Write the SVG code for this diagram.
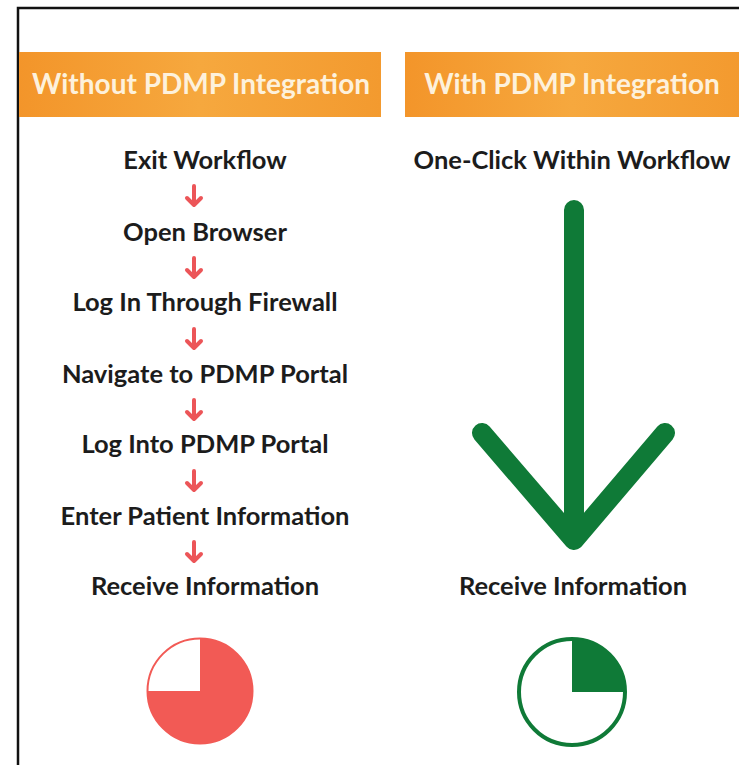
<svg xmlns="http://www.w3.org/2000/svg" width="739" height="765" viewBox="0 0 739 765">
<defs>
<linearGradient id="orange" x1="0" y1="0" x2="1" y2="0">
<stop offset="0" stop-color="#f3952a"/>
<stop offset="0.5" stop-color="#f6a83e"/>
<stop offset="1" stop-color="#f39a2f"/>
</linearGradient>
</defs>
<style>
.step{font-family:Lato,"Liberation Sans",sans-serif;font-weight:bold;font-size:25.5px;fill:#1c1c1c;text-anchor:middle}
.head{font-family:Lato,"Liberation Sans",sans-serif;font-weight:bold;font-size:28px;fill:#fdf1dc;text-anchor:middle}
.rarrow{fill:none;stroke:#ec5558;stroke-width:4;stroke-linecap:round;stroke-linejoin:round}
.green{fill:none;stroke:#0f7a37;stroke-width:20;stroke-linecap:round;stroke-linejoin:round}
</style>
<rect width="739" height="765" fill="#ffffff"/>
<path d="M18,765 V8 H739" fill="none" stroke="#111111" stroke-width="2.5"/>

<g id="header-without">
<rect x="19" y="52" width="362" height="65" fill="url(#orange)"/>
<text class="head" x="201" y="94">Without PDMP Integration</text>
</g>
<g id="header-with">
<rect x="405" y="52" width="334" height="65" fill="url(#orange)"/>
<text class="head" x="572" y="94">With PDMP Integration</text>
</g>

<g id="step-exit"><text class="step" x="205" y="169">Exit Workflow</text></g>
<g id="step-browser"><text class="step" x="205" y="241">Open Browser</text></g>
<g id="step-firewall"><text class="step" x="205" y="311">Log In Through Firewall</text></g>
<g id="step-navigate"><text class="step" x="205" y="383">Navigate to PDMP Portal</text></g>
<g id="step-login"><text class="step" x="205" y="453">Log Into PDMP Portal</text></g>
<g id="step-enter"><text class="step" x="205" y="525">Enter Patient Information</text></g>
<g id="step-receive-left"><text class="step" x="205" y="595">Receive Information</text></g>

<g id="step-oneclick"><text class="step" x="572" y="169">One-Click Within Workflow</text></g>
<g id="step-receive-right"><text class="step" x="573" y="595">Receive Information</text></g>

<g id="connectors">
<g class="rarrow">
<path d="M194,186 V205 M187,198 L194,205 L201,198"/>
<path d="M194,258 V277 M187,270 L194,277 L201,270"/>
<path d="M194,329 V348 M187,341 L194,348 L201,341"/>
<path d="M194,400 V419 M187,412 L194,419 L201,412"/>
<path d="M194,471 V490 M187,483 L194,490 L201,483"/>
<path d="M194,542 V561 M187,554 L194,561 L201,554"/>
</g>
<path class="green" d="M574,210 V540 M482,433 L574,540 L665,433"/>
</g>

<g id="clock-red">
<circle cx="200" cy="691" r="52.5" fill="#ffffff" stroke="#f25a55" stroke-width="2"/>
<path d="M200,691 V638.5 A52.5,52.5 0 1 1 147.5,691 Z" fill="#f25a55"/>
</g>
<g id="clock-green">
<circle cx="572" cy="692" r="53" fill="#ffffff" stroke="#0f7a37" stroke-width="4"/>
<path d="M572,692 V639 A53,53 0 0 1 625,692 Z" fill="#0f7a37"/>
</g>
</svg>
